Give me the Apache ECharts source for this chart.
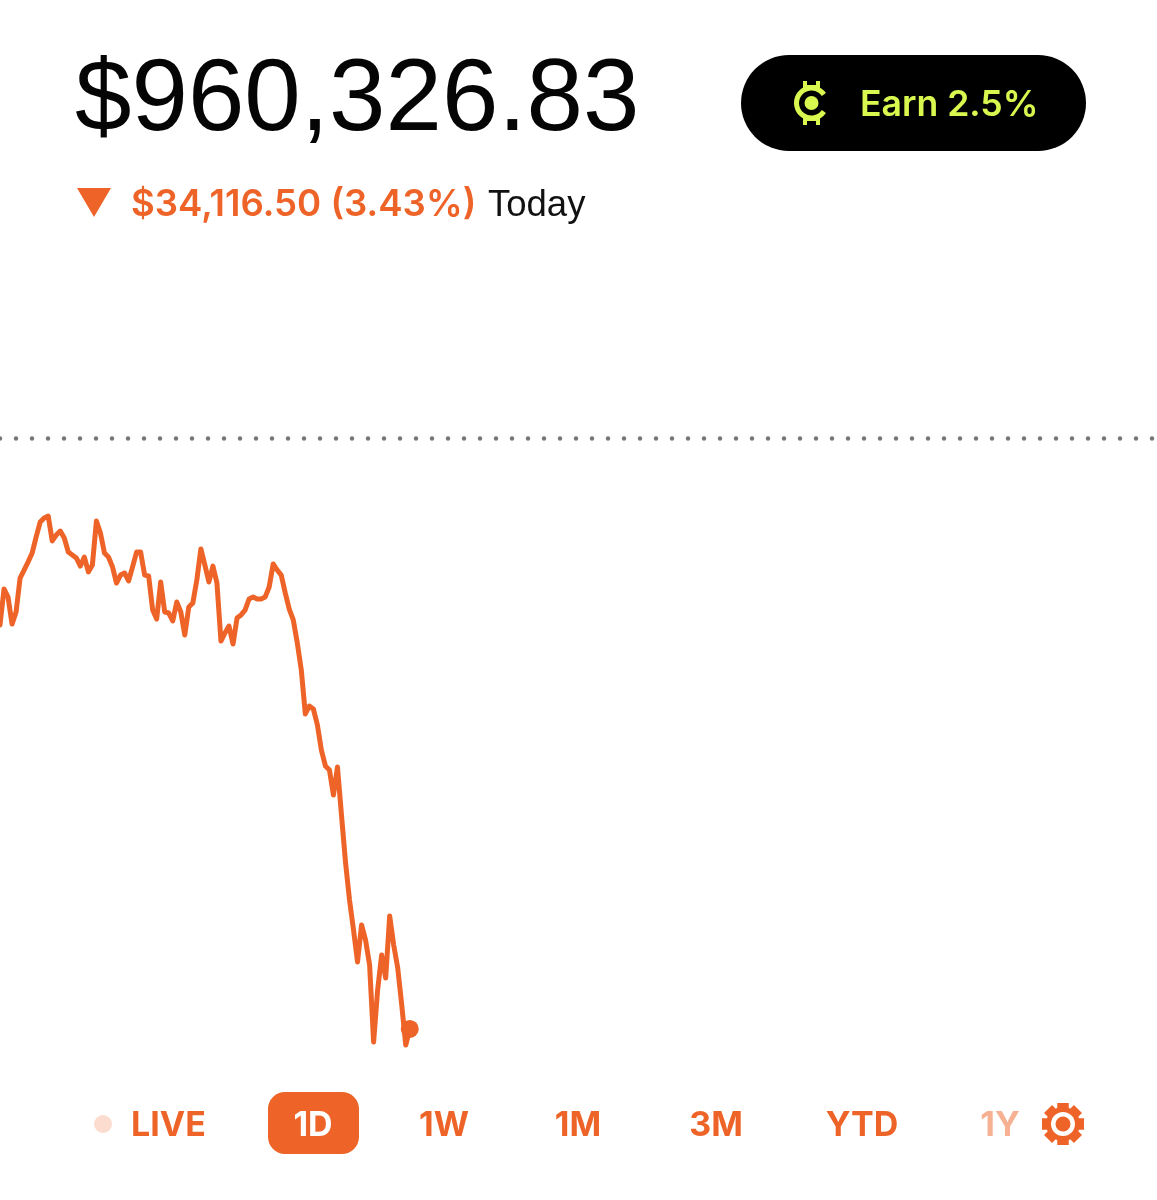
<!DOCTYPE html>
<html lang="en">

<head>
    <meta charset="UTF-8">
    <title>Portfolio</title>
    <style>
        body,
        html {
            padding: 0;
            margin: 0;
            background: #fff;
        }
    </style>
    <script src="https://cdn.jsdelivr.net/npm/echarts@6/dist/echarts.min.js"></script>
</head>

<body>
    <div style="width:1157px;height:1200px;" id='chart'></div>
    <script>
        // portfolio value every 5 minutes
        var prices = [
            983650, 985730, 985260, 983700, 984400, 986360, 986820, 987290, 987800, 988730,
            989590, 989830, 989940, 988500, 988840, 989070, 988670, 987860, 987690, 987520,
            987050, 987570, 986710, 987110, 989650, 988960, 987800, 987570, 987000, 986070,
            986530, 986650, 986190, 987000, 987860, 987860, 986530, 986480, 984510, 983990,
            986130, 984400, 984340, 983880, 984980, 984400, 983070, 984690, 984920, 986250,
            988040, 987110, 986130, 987050, 986070, 982720, 983190, 983590, 982550, 984050,
            984230, 984510, 985150, 985260, 985150, 985150, 985260, 985840, 987170, 986820,
            986530, 985500, 984570, 983940, 982610, 981050, 978510, 978970, 978800, 977880,
            976430, 975510, 975280, 973830, 975450, 972680, 969970, 967770, 966040, 964190,
            966330, 965460, 964020, 959570, 962580, 964600, 963270, 966850, 965170, 963850,
            961710, 959400, 960326.83
        ];
        var previousClose = 994443.33;
        var stepMinutes = 5;
        var dayMinutes = 1440;
        var ranges = ['1D', '1W', '1M', '3M', 'YTD', '1Y'];
        var rangeCenters = [313, 444, 578, 716, 862, 1000];

        var orange = '#ee6428';
        var lime = '#d9f84f';
        var textFont = 'Inter';

        var seriesData = prices.map(function (p, i) {
            return [i * stepMinutes, p];
        });
        var last = seriesData[seriesData.length - 1];

        var graphics = [
            { type: 'text', x: 75, y: 51, style: { text: '$960,326.83', font: '400 101.5px "Liberation Sans"', fill: '#050505', textVerticalAlign: 'top' } },
            { type: 'polygon', shape: { points: [[77, 188], [111, 188], [94, 217]] }, style: { fill: orange } },
            { type: 'text', x: 131, y: 205, style: { text: '$34,116.50 (3.43%)', font: '600 36.6px ' + textFont, fill: orange, textVerticalAlign: 'middle' } },
            { type: 'text', x: 488, y: 206, style: { text: 'Today', font: '400 36.5px "Liberation Sans"', fill: '#111', textVerticalAlign: 'middle' } },

            // earn pill
            { type: 'rect', shape: { x: 741, y: 55, width: 345, height: 96, r: 48 }, style: { fill: '#000' } },
            { type: 'arc', shape: { cx: 811.5, cy: 103, r: 15, startAngle: 0.6, endAngle: -0.6, clockwise: true }, style: { stroke: lime, lineWidth: 5, fill: null } },
            { type: 'circle', shape: { cx: 811.5, cy: 103, r: 7 }, style: { fill: lime } },
            { type: 'rect', shape: { x: 803, y: 81, width: 4, height: 8 }, style: { fill: lime } },
            { type: 'rect', shape: { x: 816, y: 81, width: 4, height: 8 }, style: { fill: lime } },
            { type: 'rect', shape: { x: 803, y: 117, width: 4, height: 8 }, style: { fill: lime } },
            { type: 'rect', shape: { x: 816, y: 117, width: 4, height: 8 }, style: { fill: lime } },
            { type: 'rect', shape: { x: 803, y: 85, width: 17, height: 3 }, style: { fill: lime } },
            { type: 'rect', shape: { x: 803, y: 118, width: 17, height: 3 }, style: { fill: lime } },
            { type: 'text', x: 860, y: 105, style: { text: 'Earn 2.5%', font: '600 35.6px ' + textFont, fill: lime, textVerticalAlign: 'middle' } },

            // range tabs
            { type: 'circle', shape: { cx: 103, cy: 1124, r: 9 }, style: { fill: '#fbdccf' } },
            { type: 'text', x: 131, y: 1126, style: { text: 'LIVE', font: '700 34px ' + textFont, fill: orange, textVerticalAlign: 'middle' } },
            { type: 'rect', shape: { x: 268, y: 1092, width: 91, height: 62, r: 17 }, style: { fill: orange } }
        ];

        ranges.forEach(function (r, i) {
            graphics.push({
                type: 'text', x: rangeCenters[i], y: 1126,
                style: {
                    text: r, font: '700 34px ' + textFont,
                    fill: r === '1D' ? '#fff' : orange,
                    opacity: r === '1Y' ? 0.5 : 1,
                    textAlign: 'center', textVerticalAlign: 'middle'
                }
            });
        });

        // settings gear
        for (var a = 0; a < 8; a++) {
            graphics.push({
                type: 'rect', x: 1063, y: 1124, rotation: a * Math.PI / 4,
                shape: { x: -5.5, y: -21, width: 11, height: 42 }, style: { fill: orange }
            });
        }
        graphics.push(
            { type: 'circle', shape: { cx: 1063, cy: 1124, r: 17 }, style: { fill: orange } },
            { type: 'circle', shape: { cx: 1063, cy: 1124, r: 12 }, style: { fill: '#fff' } },
            { type: 'circle', shape: { cx: 1063, cy: 1124, r: 7.5 }, style: { fill: orange } }
        );

        var myChart = echarts.init(document.getElementById('chart'));
        myChart.setOption({
            animation: false,
            grid: { left: 0, right: 0, top: 0, bottom: 0 },
            xAxis: { type: 'value', min: 0, max: dayMinutes, show: false },
            yAxis: { type: 'value', min: 950453, max: 1019729, show: false },
            graphic: { elements: graphics },
            series: [{
                type: 'line',
                data: seriesData,
                showSymbol: false,
                lineStyle: { color: orange, width: 5, join: 'round', cap: 'round' },
                itemStyle: { color: orange },
                markLine: {
                    silent: true,
                    symbol: 'none',
                    label: { show: false },
                    lineStyle: { color: '#777', type: [0, 16], width: 4.5, cap: 'round', opacity: 1 },
                    data: [{ yAxis: previousClose }]
                }
            }, {
                type: 'scatter',
                data: [last],
                symbolSize: 18,
                itemStyle: { color: orange, opacity: 1 }
            }]
        });
    </script>
</body>

</html>
